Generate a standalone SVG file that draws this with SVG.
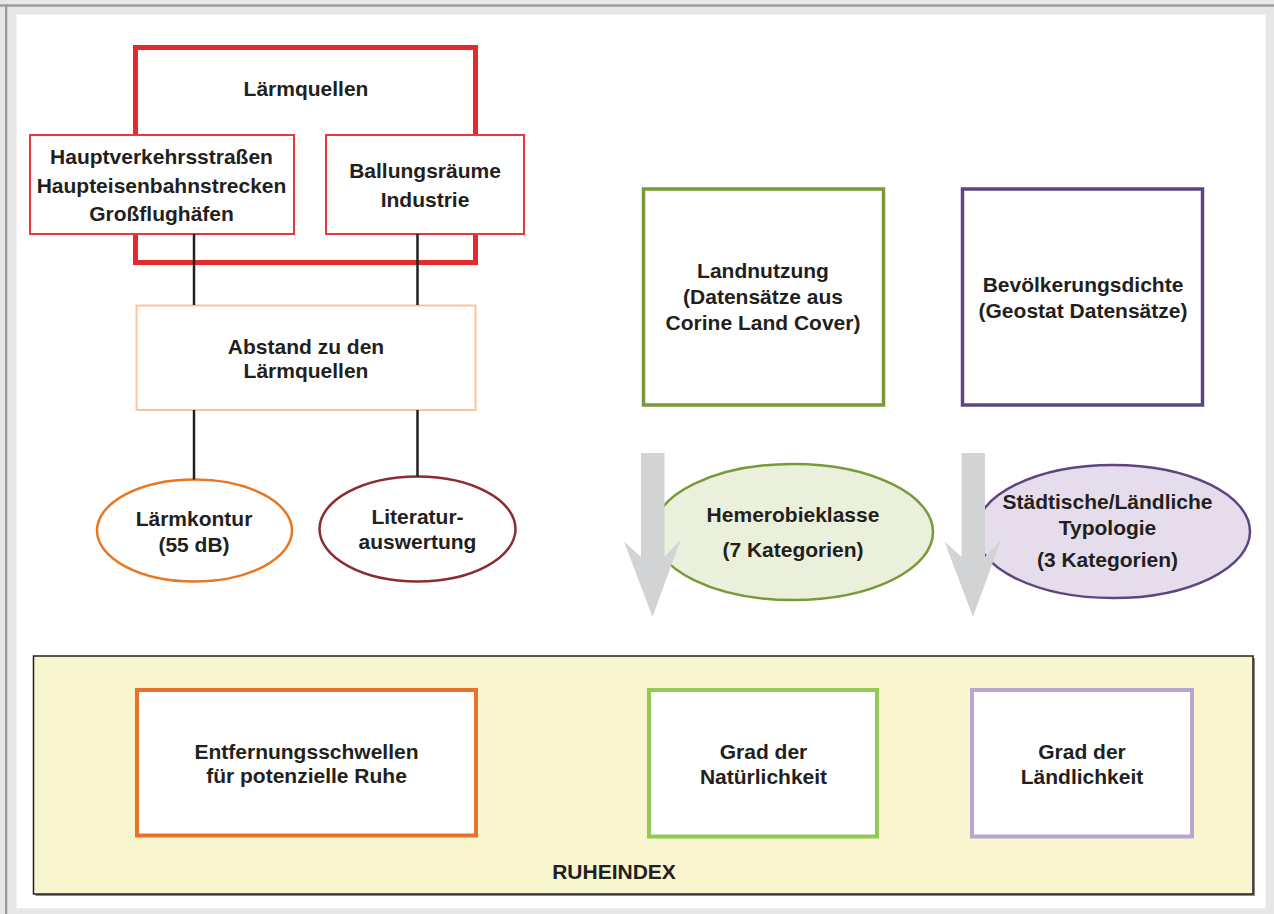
<svg xmlns="http://www.w3.org/2000/svg" width="1274" height="914" viewBox="0 0 1274 914">
<style>
text{font-family:"Liberation Sans",Arial,sans-serif;font-weight:bold;font-size:21px;fill:#231f20;text-anchor:middle}
.box{fill:#fff}
.conn{stroke:#231f20;stroke-width:2.5;fill:none}
.garrow{fill:#d1d3d4;stroke:none}
</style>
<g id="frame">
<rect x="0" y="0" width="1274" height="914" fill="#e6e7e6"/>
<rect x="0" y="4.3" width="1274" height="2.4" fill="#9b9b9b"/>
<rect x="5" y="4.3" width="2.3" height="910" fill="#9b9b9b"/>
<rect x="16.5" y="14.7" width="1249.2" height="893.6" fill="#fff"/>
</g>
<g id="panel-ruheindex">
<rect x="35.5" y="658" width="1219.5" height="238" fill="#8a8a8a"/>
<rect x="33.5" y="656" width="1219.5" height="238" fill="#f9f6cf" stroke="#231f20" stroke-width="1.5"/>
<text x="614" y="879">RUHEINDEX</text>
</g>
<g id="node-laermquellen">
<rect x="135.5" y="47.5" width="340" height="215" fill="#fff" stroke="#e42a2d" stroke-width="5"/>
<text x="306" y="96">Lärmquellen</text>
</g>
<g id="node-hauptverkehr">
<rect class="box" x="30" y="135" width="264" height="99" stroke="#e8383d" stroke-width="2"/>
<text x="161.5" y="164">Hauptverkehrsstraßen</text>
<text x="161.5" y="192.5">Haupteisenbahnstrecken</text>
<text x="161.5" y="221">Großflughäfen</text>
</g>
<g id="node-ballung">
<rect class="box" x="326" y="135" width="198" height="99" stroke="#e8383d" stroke-width="2"/>
<text x="425" y="178">Ballungsräume</text>
<text x="425" y="207">Industrie</text>
</g>
<g id="node-abstand">
<rect class="box" x="136.5" y="305.5" width="339" height="104.5" stroke="#fbc597" stroke-width="2"/>
<text x="306" y="353.5">Abstand zu den</text>
<text x="306" y="377.5">Lärmquellen</text>
</g>
<g id="node-laermkontur">
<ellipse cx="194.5" cy="530.5" rx="97.5" ry="51" fill="#fff" stroke="#e87722" stroke-width="2.5"/>
<text x="194" y="526">Lärmkontur</text>
<text x="194" y="552">(55 dB)</text>
</g>
<g id="node-literatur">
<ellipse cx="417.5" cy="529" rx="98" ry="52.5" fill="#fff" stroke="#8c2c2f" stroke-width="2.5"/>
<text x="417.5" y="524">Literatur-</text>
<text x="417.5" y="549">auswertung</text>
</g>
<g id="node-landnutzung">
<rect class="box" x="643.5" y="189" width="240" height="216" stroke="#7a9a3a" stroke-width="3.5"/>
<text x="763" y="277.5">Landnutzung</text>
<text x="763" y="303.5">(Datensätze aus</text>
<text x="763" y="329.5">Corine Land Cover)</text>
</g>
<g id="node-bevoelkerung">
<rect class="box" x="962.5" y="189" width="240" height="216" stroke="#5e4580" stroke-width="3.5"/>
<text x="1083" y="291.5">Bevölkerungsdichte</text>
<text x="1083" y="317.5">(Geostat Datensätze)</text>
</g>
<g id="node-hemerobie">
<ellipse cx="793" cy="532" rx="140" ry="68" fill="#ebf0dc" stroke="#7a9a3a" stroke-width="2.5"/>
<text x="793" y="522">Hemerobieklasse</text>
<text x="793" y="556.5">(7 Kategorien)</text>
</g>
<g id="node-typologie">
<ellipse cx="1113" cy="531.5" rx="137" ry="66.5" fill="#e5dcec" stroke="#5e4580" stroke-width="2.5"/>
<text x="1107.5" y="509">Städtische/Ländliche</text>
<text x="1107.5" y="535">Typologie</text>
<text x="1107.5" y="567">(3 Kategorien)</text>
</g>
<g id="node-entfernung">
<rect class="box" x="137" y="690" width="339" height="145.5" stroke="#e8722a" stroke-width="4"/>
<text x="306.5" y="758.5">Entfernungsschwellen</text>
<text x="306.5" y="783">für potenzielle Ruhe</text>
</g>
<g id="node-natuerlichkeit">
<rect class="box" x="649" y="690" width="228" height="146.5" stroke="#93c955" stroke-width="4"/>
<text x="763.5" y="758.5">Grad der</text>
<text x="763.5" y="783.5">Natürlichkeit</text>
</g>
<g id="node-laendlichkeit">
<rect class="box" x="972" y="690" width="220" height="146.5" stroke="#b7a7d0" stroke-width="4"/>
<text x="1082" y="758.5">Grad der</text>
<text x="1082" y="783.5">Ländlichkeit</text>
</g>
<g id="connectors">
<line class="conn" x1="194" y1="234" x2="194" y2="305"/>
<line class="conn" x1="417.5" y1="234" x2="417.5" y2="305"/>
<line class="conn" x1="194" y1="410" x2="194" y2="479.5"/>
<line class="conn" x1="417.5" y1="410" x2="417.5" y2="476.5"/>
<polygon class="garrow" points="641,453 664.5,453 664.5,557 680.5,540 652.5,617 624,541.5 641,557"/>
<polygon class="garrow" points="961.5,453 985,453 985,557 1001,540 973,617 944.5,541.5 961.5,557"/>
</g>
</svg>
